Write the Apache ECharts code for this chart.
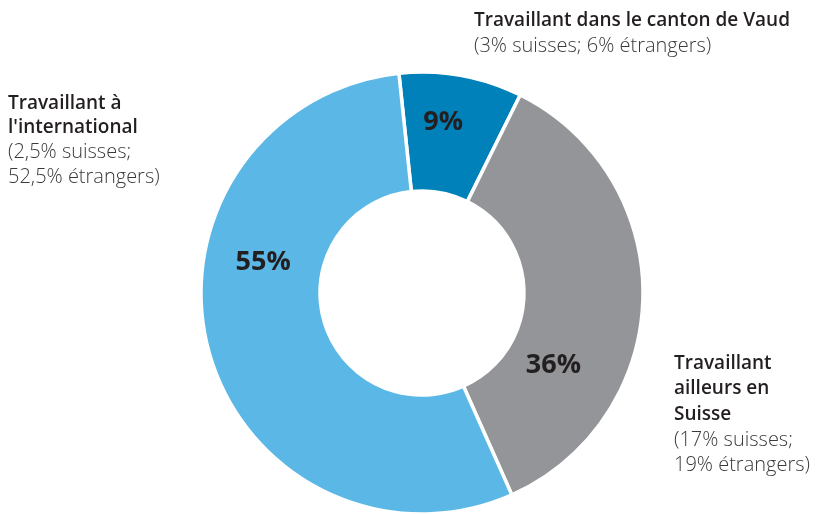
<!DOCTYPE html>
<html>
<head>
<meta charset="utf-8">
<script src="https://cdn.jsdelivr.net/npm/echarts@6/dist/echarts.min.js"></script>
<style>
  html, body { margin: 0; padding: 0; background: #fff; }
  #chart { width: 819px; height: 514px; }
</style>
</head>
<body>
<div id="chart"></div>
<script>
// parts of the total, clockwise from the top
var categories = ['Travaillant dans le canton de Vaud', 'Travaillant ailleurs en Suisse', 'Travaillant à l\'international'];
var values = [9, 36, 55];
var details = ['(3% suisses; 6% étrangers)', '(17% suisses;\n19% étrangers)', '(2,5% suisses;\n52,5% étrangers)'];
var colors = ['#0081ba', '#939598', '#5bb8e6'];

// label nudges away from the default inside position
var labelShift = [[-8, -9], [-33, 69], [0, -73]];

var chart = echarts.init(document.getElementById('chart'));

var FONT = 'Open Sans';

function block(x, y, head, sub, lh) {
  return {
    type: 'text',
    left: x,
    top: y,
    style: {
      text: '{h|' + head.split('\n').join('}\n{h|') + '}\n{s|' + sub.split('\n').join('}\n{s|') + '}',
      rich: {
        h: { fontFamily: FONT, fontSize: 19, fontWeight: 600, fill: '#231f20', lineHeight: lh },
        s: { fontFamily: FONT, fontSize: 20, fontWeight: 300, fill: '#3a3a3a', lineHeight: lh }
      }
    }
  };
}

chart.setOption({
  animation: false,
  series: [{
    type: 'pie',
    center: [422, 293],
    radius: [102, 221],
    startAngle: 96,
    clockwise: true,
    silent: true,
    itemStyle: { borderColor: '#fff', borderWidth: 3.5 },
    label: {
      position: 'inside',
      formatter: '{c}%',
      fontFamily: FONT,
      fontSize: 27,
      fontWeight: 'bold',
      color: '#231f20'
    },
    labelLayout: function (p) {
      var s = labelShift[p.dataIndex];
      return { dx: s[0], dy: s[1] };
    },
    data: categories.map(function (c, i) {
      return { name: c, value: values[i], itemStyle: { color: colors[i] } };
    })
  }],
  graphic: [
    block(474, 11, 'Travaillant dans le canton de Vaud', details[0], 26),
    block(674, 354, 'Travaillant\nailleurs en\nSuisse', details[1], 25.5),
    block(8, 94, 'Travaillant à\nl\'international', details[2], 24.5)
  ]
});
</script>
</body>
</html>
